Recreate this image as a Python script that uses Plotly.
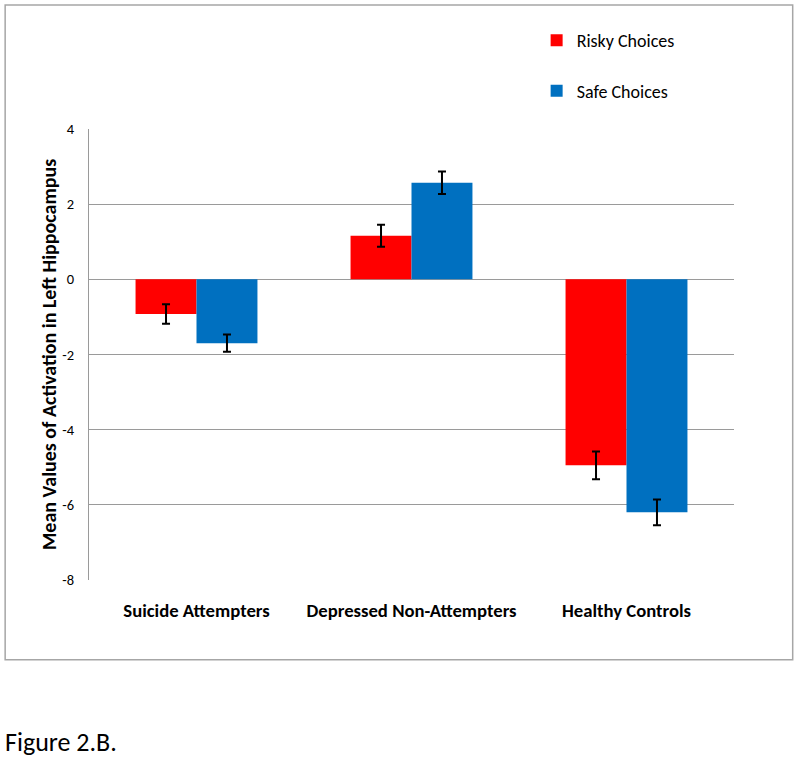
import plotly.graph_objects as go

categories = ["Suicide Attempters", "Depressed Non-Attempters", "Healthy Controls"]
risky_values = [-0.92, 1.16, -4.95]
risky_errors = [0.26, 0.29, 0.37]
safe_values = [-1.70, 2.57, -6.20]
safe_errors = [0.23, 0.30, 0.34]
y_tickvals = [4, 2, 0, -2, -4, -6, -8]
y_ticktext = ["4", "2", "0", "-2", "-4", "-6", "-8"]

FONT = "Carlito, Lato, 'Liberation Sans', sans-serif"

fig = go.Figure()
fig.add_trace(go.Bar(
    x=categories, y=risky_values, name="Risky Choices", legendgroup="r",
    marker=dict(color="#FF0000", line=dict(width=0)),
    error_y=dict(type="data", array=risky_errors, color="black", thickness=2, width=4),
))
fig.add_trace(go.Bar(
    x=categories, y=safe_values, name="Safe Choices", legendgroup="s",
    marker=dict(color="#0070C0", line=dict(width=0)),
    error_y=dict(type="data", array=safe_errors, color="black", thickness=2, width=4),
))

fig.update_layout(
    width=800, height=759,
    margin=dict(l=89, r=66, t=129, b=179, autoexpand=False),
    paper_bgcolor="white", plot_bgcolor="white",
    barmode="group", bargap=0.433, bargroupgap=0,
    font=dict(family=FONT, size=14, color="black"),
    showlegend=True,
    legend=dict(
        x=0.694, y=1.237, xanchor="left", yanchor="top",
        traceorder="grouped", tracegroupgap=24,
        font=dict(size=18), itemwidth=30, bgcolor="rgba(0,0,0,0)",
    ),
    xaxis=dict(
        showgrid=False, showline=False, ticks="", automargin=False,
        tickfont=dict(size=18.7, family=FONT, weight="bold"),
        ticklabelstandoff=17,
    ),
    yaxis=dict(
        range=[-8, 4], tickvals=y_tickvals, ticktext=y_ticktext, automargin=False,
        showgrid=True, gridcolor="#9a9a9a", gridwidth=1,
        zeroline=True, zerolinecolor="#9a9a9a", zerolinewidth=1,
        showline=True, linecolor="#9a9a9a", linewidth=1,
        ticks="", ticklabelstandoff=11,
        tickfont=dict(size=14.5),
        title=dict(text="Mean Values of Activation in Left Hippocampus",
                   font=dict(size=20, family=FONT, weight="bold"), standoff=0),
    ),
)

# outer chart border
fig.add_shape(type="rect", xref="paper", yref="paper",
              x0=-0.130, x1=1.091, y0=-0.177, y1=1.275,
              line=dict(color="#a6a6a6", width=1.5), fillcolor="rgba(0,0,0,0)", layer="below")

fig.add_annotation(text="Figure 2.B.", xref="paper", yref="paper",
                   x=-0.133, y=-0.359, xanchor="left", yanchor="middle",
                   showarrow=False, font=dict(size=26, family=FONT))

fig.write_html("out.html", config={"displayModeBar": False},
               post_script="document.body.style.margin='0';")
